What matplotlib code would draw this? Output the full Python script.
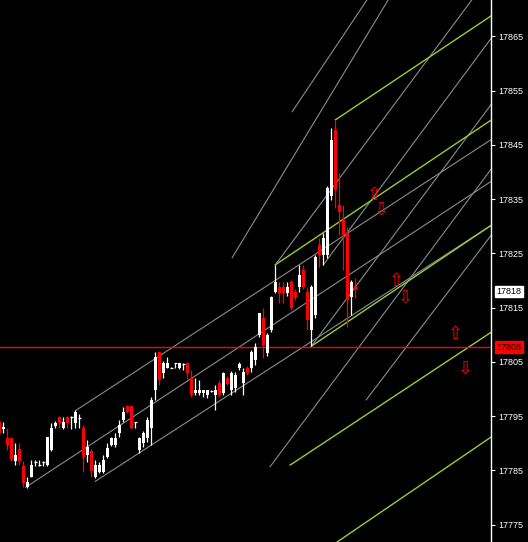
import matplotlib
matplotlib.use("Agg")
import matplotlib.pyplot as plt
import numpy as np

# candles (one per bar index 0..89)
opens = [17793.9, 17792.6, 17791.0, 17791.0, 17786.8, 17789.0, 17785.8, 17782.0, 17783.8, 17786.4,
         17786.0, 17786.6, 17786.0, 17788.8, 17793.2, 17794.9, 17792.8, 17794.9, 17794.7, 17793.8,
         17794.5, 17792.8, 17787.9, 17788.6, 17783.8, 17784.7, 17784.7, 17787.5, 17789.7, 17789.7,
         17791.9, 17794.3, 17796.9, 17796.9, 17793.8, 17788.8, 17790.1, 17791.0, 17792.8, 17799.8,
         17806.8, 17803.0, 17803.9, 17803.9, 17804.8, 17803.9, 17804.6, 17804.8, 17802.0, 17799.3,
         17799.3, 17799.3, 17798.9, 17799.6, 17798.9, 17801.1, 17799.3, 17802.0, 17799.8, 17800.2,
         17803.9, 17801.1, 17803.9, 17803.9, 17805.4, 17810.0, 17813.1, 17806.6, 17810.9, 17817.9,
         17818.8, 17818.8, 17817.7, 17819.7, 17817.9, 17818.8, 17821.9, 17817.9, 17810.9, 17813.7,
         17826.5, 17824.7, 17824.7, 17835.6, 17847.7, 17833.9, 17831.2, 17828.8, 17817.0, 17819.0]
highs = [17794.1, 17793.9, 17792.8, 17791.2, 17790.1, 17790.1, 17786.8, 17783.8, 17786.9, 17786.9,
         17786.9, 17786.8, 17791.2, 17793.8, 17794.1, 17795.0, 17794.9, 17795.0, 17795.0, 17796.1,
         17795.4, 17793.4, 17790.6, 17789.0, 17786.9, 17786.6, 17787.9, 17790.1, 17791.2, 17791.9,
         17794.3, 17796.7, 17797.1, 17797.1, 17793.9, 17791.2, 17792.3, 17794.9, 17798.5, 17806.8,
         17807.0, 17805.2, 17805.9, 17804.0, 17804.8, 17804.8, 17804.8, 17805.0, 17803.5, 17802.0,
         17801.7, 17799.8, 17799.8, 17799.8, 17800.8, 17801.7, 17803.1, 17802.4, 17803.3, 17803.1,
         17805.0, 17803.9, 17804.3, 17807.2, 17808.5, 17814.0, 17814.9, 17810.3, 17817.2, 17822.9,
         17819.7, 17819.7, 17819.7, 17820.1, 17818.4, 17822.9, 17822.9, 17818.6, 17819.2, 17824.7,
         17827.8, 17828.8, 17837.4, 17848.1, 17849.6, 17839.8, 17833.9, 17829.9, 17820.1, 17820.5]
lows = [17791.7, 17791.9, 17788.8, 17786.8, 17786.0, 17786.0, 17782.0, 17781.8, 17783.8, 17785.8,
        17785.9, 17785.9, 17785.8, 17788.6, 17792.8, 17792.8, 17792.6, 17792.8, 17792.6, 17792.8,
        17792.8, 17784.7, 17786.6, 17783.8, 17783.6, 17784.5, 17784.5, 17787.3, 17789.5, 17789.3,
        17791.2, 17793.9, 17795.6, 17792.6, 17792.8, 17788.2, 17789.3, 17790.3, 17789.7, 17798.0,
        17800.8, 17802.0, 17803.8, 17803.8, 17803.9, 17803.7, 17803.5, 17801.9, 17798.5, 17798.9,
        17798.9, 17798.5, 17798.4, 17799.5, 17796.1, 17798.5, 17798.9, 17800.8, 17798.9, 17799.5,
        17803.5, 17798.9, 17802.6, 17803.1, 17804.4, 17809.6, 17805.7, 17806.1, 17810.5, 17817.7,
        17815.9, 17815.9, 17817.2, 17814.6, 17816.4, 17817.9, 17818.4, 17810.9, 17807.9, 17813.1,
        17822.5, 17822.9, 17824.2, 17834.8, 17833.4, 17828.4, 17821.9, 17811.4, 17813.7, 17816.8]
closes = [17791.9, 17793.0, 17789.7, 17786.9, 17787.9, 17786.8, 17782.7, 17782.9, 17786.0, 17786.6,
          17786.1, 17786.7, 17791.2, 17792.8, 17793.8, 17793.8, 17793.9, 17793.8, 17794.9, 17795.8,
          17794.7, 17787.5, 17789.3, 17784.9, 17786.0, 17786.0, 17786.9, 17789.1, 17791.0, 17791.0,
          17793.4, 17795.8, 17795.8, 17792.8, 17793.9, 17791.0, 17791.9, 17794.3, 17798.0, 17805.9,
          17801.7, 17804.8, 17804.8, 17803.9, 17804.8, 17804.8, 17804.7, 17803.0, 17798.9, 17799.8,
          17799.8, 17799.8, 17799.8, 17799.7, 17799.8, 17798.9, 17803.0, 17800.9, 17803.0, 17802.6,
          17804.6, 17803.1, 17803.0, 17806.8, 17807.8, 17814.0, 17808.1, 17810.0, 17817.0, 17819.7,
          17817.7, 17817.7, 17818.8, 17814.9, 17816.8, 17821.0, 17818.8, 17812.7, 17818.8, 17824.3,
          17824.7, 17827.8, 17837.1, 17845.9, 17836.7, 17832.6, 17828.4, 17816.4, 17819.7, 17818.2]

# trend lines: (bar0, price0, bar1, price1), drawn as rays to the right
channel_lines = [(19.2, 17796.1, 123, 17846.0),
                 (6.6, 17781.9, 123, 17838.3),
                 (24.0, 17783.0, 123, 17830.2)]
green_lines = [(84.0, 17849.6, 123, 17868.8),
               (69.0, 17822.9, 123, 17849.6),
               (78.0, 17807.9, 123, 17830.2),
               (72.7, 17786.0, 123, 17810.5),
               (84.4, 17771.8, 123, 17791.2)]
steep_lines = [(69.0, 17822.9, 118.1, 17871.7),
               (67.7, 17785.7, 123, 17840.6),
               (78.0, 17807.9, 123, 17852.5),
               (91.7, 17798.0, 123, 17828.4),
               (81.0, 17822.9, 123, 17864.7),
               (58.2, 17824.2, 97.2, 17871.7),
               (73.2, 17851.1, 91.9, 17871.7)]

arrows_up = [(93.7, 17835.8), (99.2, 17819.9), (113.9, 17810.2)]
arrows_dn = [(95.4, 17833.0), (101.4, 17816.8), (116.4, 17803.7)]

hline_price = 17807.7
bid_price = 17818
yticks = [17865, 17855, 17845, 17835, 17825, 17815, 17805, 17795, 17785, 17775]

W, H = 528, 542
fig = plt.figure(figsize=(W / 100, H / 100), dpi=100, facecolor="black")
ax = fig.add_axes([0, 0, 491 / W, 1])
ax.set_facecolor("black")
x0, x1 = 0.175, 122.9
y0, y1 = 17771.82, 17871.69
ax.set_xlim(x0, x1)
ax.set_ylim(y0, y1)

def ray(x_a, p_a, x_b, p_b):
    # extend to right edge
    k = (p_b - p_a) / (x_b - x_a)
    return [x_a, x1 + 1], [p_a, p_a + k * (x1 + 1 - x_a)]

for ln in channel_lines + steep_lines:
    xs, ps = ray(*ln)
    ax.plot(xs, ps, color="#8c8c8c", lw=0.8, zorder=1)
for ln in green_lines:
    xs, ps = ray(*ln)
    ax.plot(xs, ps, color="#9acd32", lw=1.0, zorder=1)

ax.axhline(hline_price, color="#ff0000", lw=1.0, zorder=2)

idx = np.arange(len(opens))
for i in idx:
    o, h, l, c = opens[i], highs[i], lows[i], closes[i]
    col = "white" if c >= o else "#ff0000"
    ax.vlines(i, l, h, color=col, lw=0.9, zorder=3)
    lo, hi = min(o, c), max(o, c)
    if hi - lo < 0.3:
        ax.hlines((o + c) / 2, i - 0.4, i + 0.4, color=col, lw=0.9, zorder=4)
    else:
        ax.bar(i, hi - lo, bottom=lo, width=0.75, color=col, lw=0, zorder=4)

for (bx, bp) in arrows_up:
    ax.annotate("\u21e7", (bx, bp), color="#ff0000", fontsize=13, ha="center", va="center",
                family="DejaVu Sans", zorder=5)
for (bx, bp) in arrows_dn:
    ax.annotate("\u21e9", (bx, bp), color="#ff0000", fontsize=13, ha="center", va="center",
                family="DejaVu Sans", zorder=5)

ax.set_xticks([])
ax.yaxis.tick_right()
ax.set_yticks(yticks)
ax.set_yticklabels([str(t) for t in yticks], fontsize=6.5, family="Liberation Sans", color="white")
ax.tick_params(axis="y", colors="white", length=3, width=0.8, pad=2, labelcolor="white")
for s in ["top", "left", "bottom"]:
    ax.spines[s].set_visible(False)
ax.spines["right"].set_color("white")
ax.spines["right"].set_linewidth(1.0)

# price labels on the axis
ax.annotate(str(bid_price), xy=(1.0, bid_price), xycoords=("axes fraction", "data"),
            xytext=(4, 0), textcoords="offset points", fontsize=6.5, family="Liberation Sans",
            color="black", va="center", ha="left",
            bbox=dict(boxstyle="square,pad=0.15", fc="white", ec="white"), annotation_clip=False)
ax.annotate(str(round(hline_price)), xy=(1.0, hline_price), xycoords=("axes fraction", "data"),
            xytext=(4, 0), textcoords="offset points", fontsize=6.5, family="Liberation Sans",
            color="black", va="center", ha="left",
            bbox=dict(boxstyle="square,pad=0.15", fc="#ff0000", ec="#ff0000"), annotation_clip=False)

fig.savefig("out.png", dpi=100, facecolor="black")
